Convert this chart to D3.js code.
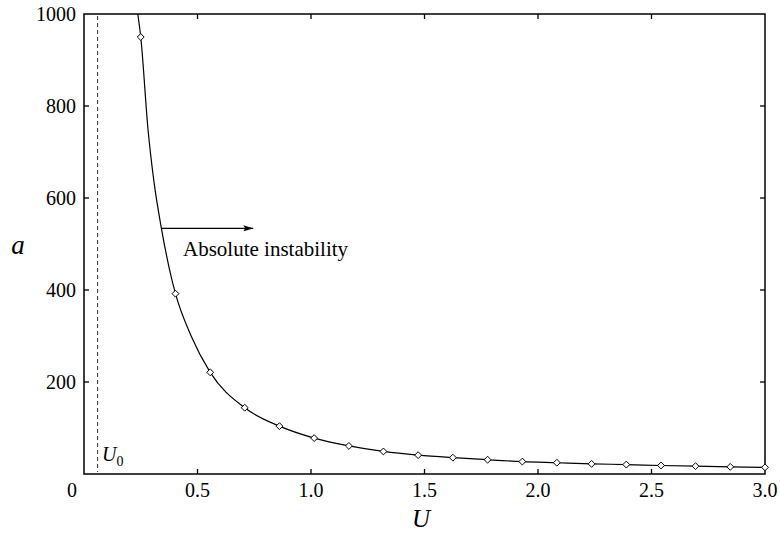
<!DOCTYPE html>
<html><head><meta charset="utf-8">
<script src="https://cdn.jsdelivr.net/npm/d3@7"></script>
<style>body{margin:0;background:#fff}svg{display:block}svg text{font-family:"Times New Roman","Liberation Serif",Tinos,"DejaVu Serif","Noto Serif",serif}</style>
</head><body><svg id="c" width="780" height="533"></svg>
<script>
// Data
const markerU = [0.25, 0.403, 0.556, 0.708, 0.861, 1.014, 1.167, 1.319, 1.472, 1.625, 1.778, 1.931, 2.083, 2.236, 2.389, 2.542, 2.694, 2.847, 3.0];
const markerA = [950, 392, 221, 144, 104, 78, 61, 49, 41, 35.5, 31, 27, 24.5, 22, 20.5, 18.5, 17, 15.5, 14.5];
// extra points read along the solid curve between markers
const curveExtraU = [0.237, 0.282, 0.307, 0.341, 0.377, 0.473];
const curveExtraA = [1000, 749, 640, 534, 444, 299];
const U0 = 0.06;
const xTicks = [0, 0.5, 1.0, 1.5, 2.0, 2.5, 3.0];
const xTickLabels = ["0", "0.5", "1.0", "1.5", "2.0", "2.5", "3.0"];
const yTicks = [200, 400, 600, 800, 1000];
const arrowFromU = 0.341, arrowToU = 0.75, arrowA = 534;
const annotation = "Absolute instability";

const svg = d3.select("#c");
const L = 84, R = 765, T = 14, B = 474;
const x = d3.scaleLinear().domain([0, 3]).range([L, R]);
const y = d3.scaleLinear().domain([0, 1000]).range([B, T]);

// frame
svg.append("rect").attr("x", L).attr("y", T).attr("width", R - L).attr("height", B - T)
  .attr("fill", "none").attr("stroke", "#000").attr("stroke-width", 1.5);

// ticks (inward) on all four sides
const tl = 5;
xTicks.forEach((t, i) => {
  if (t > 0 && t < 3) {
    svg.append("line").attr("x1", x(t)).attr("x2", x(t)).attr("y1", B).attr("y2", B - tl).attr("stroke", "#000").attr("stroke-width", 1.3);
    svg.append("line").attr("x1", x(t)).attr("x2", x(t)).attr("y1", T).attr("y2", T + tl).attr("stroke", "#000").attr("stroke-width", 1.3);
  }
  svg.append("text").attr("x", t === 0 ? x(t) - 12 : x(t)).attr("y", 497).attr("fill", "#000")
    .attr("text-anchor", "middle").attr("font-size", 20).text(xTickLabels[i]);
});
yTicks.forEach(t => {
  if (t < 1000) {
    svg.append("line").attr("x1", L).attr("x2", L + tl).attr("y1", y(t)).attr("y2", y(t)).attr("stroke", "#000").attr("stroke-width", 1.3);
    svg.append("line").attr("x1", R).attr("x2", R - tl).attr("y1", y(t)).attr("y2", y(t)).attr("stroke", "#000").attr("stroke-width", 1.3);
  }
  svg.append("text").attr("x", 76).attr("y", y(t)).attr("dy", "0.35em").attr("fill", "#000")
    .attr("text-anchor", "end").attr("font-size", 20).text(t);
});

// axis titles
svg.append("text").attr("x", 421).attr("y", 527).attr("text-anchor", "middle").attr("fill", "#000")
  .attr("font-size", 25).attr("font-style", "italic").text("U");
svg.append("text").attr("x", 18).attr("y", 254).attr("text-anchor", "middle").attr("fill", "#000")
  .attr("font-size", 27).attr("font-style", "italic").text("a");

// U0 dashed line
svg.append("line").attr("x1", x(U0)).attr("x2", x(U0)).attr("y1", T + 2).attr("y2", B - 2)
  .attr("stroke", "#333").attr("stroke-width", 1).attr("stroke-dasharray", "4,3");
const u0t = svg.append("text").attr("x", 102).attr("y", 461).attr("font-size", 20).attr("fill", "#000");
u0t.append("tspan").attr("font-style", "italic").attr("fill", "#000").text("U");
u0t.append("tspan").attr("font-size", 14).attr("dy", 5).attr("fill", "#000").text("0");

// curve
const curvePts = curveExtraU.map((u, i) => [u, curveExtraA[i]])
  .concat(markerU.map((u, i) => [u, markerA[i]]))
  .sort((p, q) => p[0] - q[0]);
svg.append("path").datum(curvePts)
  .attr("d", d3.line().x(d => x(d[0])).y(d => y(d[1])).curve(d3.curveMonotoneX))
  .attr("fill", "none").attr("stroke", "#000").attr("stroke-width", 1.2);

// markers (diamonds)
const diamond = d3.symbol().type(d3.symbolDiamond2).size(30);
svg.selectAll("path.m").data(markerU.map((u, i) => [u, markerA[i]])).enter().append("path")
  .attr("class", "m").attr("d", diamond)
  .attr("transform", d => `translate(${x(d[0])},${y(d[1])})`)
  .attr("fill", "#fff").attr("stroke", "#000").attr("stroke-width", 1);

// arrow annotation
const defs = svg.append("defs");
defs.append("marker").attr("id", "ah").attr("viewBox", "0 0 10 6").attr("refX", 10).attr("refY", 3)
  .attr("markerWidth", 10).attr("markerHeight", 6).attr("markerUnits", "userSpaceOnUse").attr("orient", "auto")
  .append("path").attr("d", "M0,0 L10,3 L0,6 L2,3 Z").attr("fill", "#000");
svg.append("line").attr("x1", x(arrowFromU)).attr("x2", x(arrowToU) - 1).attr("y1", y(arrowA)).attr("y2", y(arrowA))
  .attr("stroke", "#000").attr("stroke-width", 1.2).attr("marker-end", "url(#ah)");
svg.append("text").attr("x", 183).attr("y", 256).attr("font-size", 21).attr("fill", "#000").text(annotation);
</script></body></html>
